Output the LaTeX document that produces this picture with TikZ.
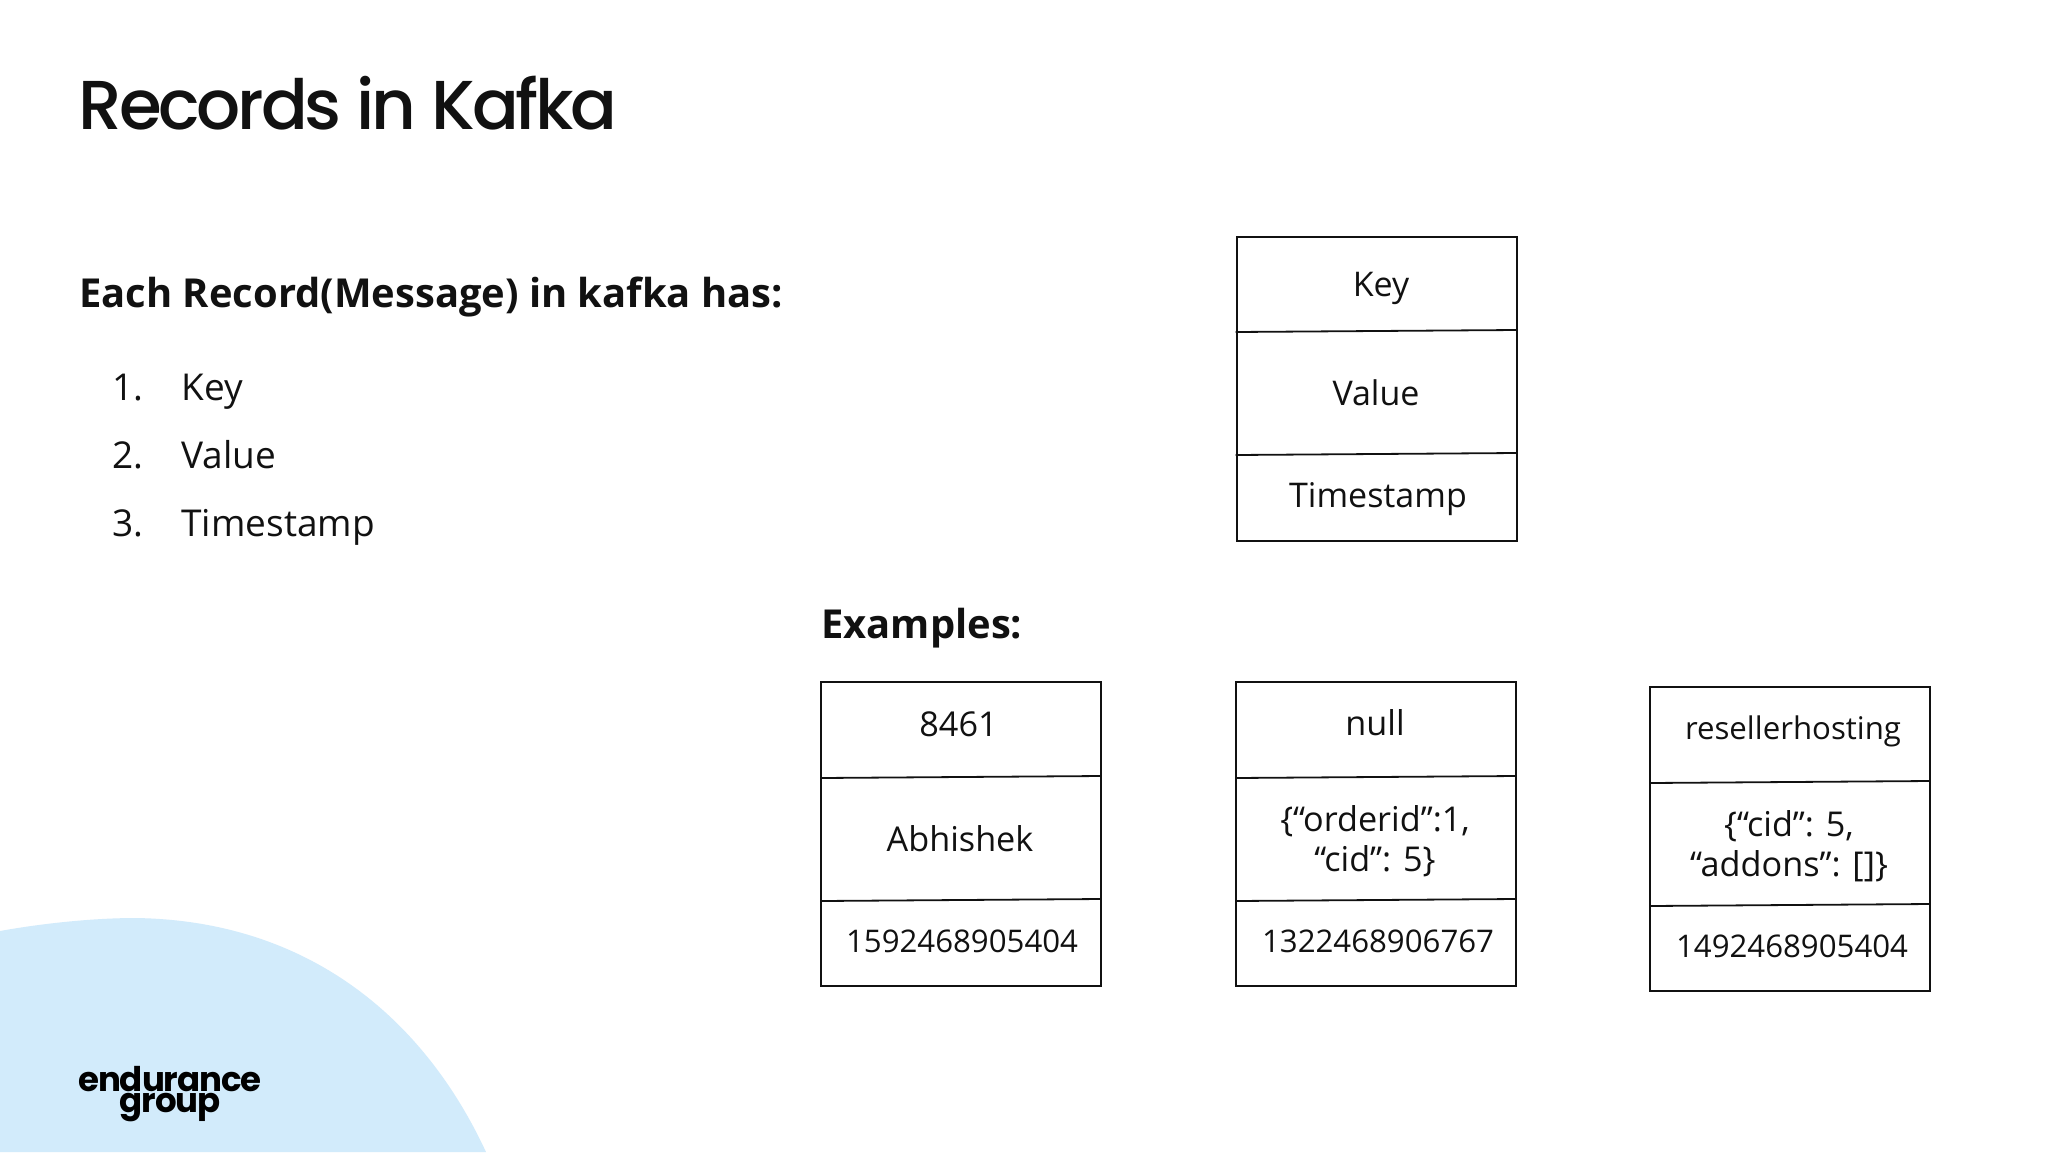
\documentclass[tikz,border=0pt]{standalone}
\usepackage{fontspec}
\setmainfont{Open Sans}
\newfontfamily\titlefont[LetterSpace=-4.6]{Poppins Medium}
\newfontfamily\logofont[LetterSpace=-3]{Poppins Bold}
\definecolor{blob}{HTML}{D2EBFB}
\definecolor{ink}{HTML}{111111}
\tikzset{
  recordbox/.style={draw=ink,line width=1pt,minimum width=140pt,inner sep=0pt,anchor=north west},
  divider/.style={draw=ink,line width=0.9pt},
  txt/.style={inner sep=0pt,anchor=base,text=ink},
  lft/.style={inner sep=0pt,anchor=base west,text=ink},
  big/.style={font=\fontsize{17}{20}\selectfont},
  small/.style={font=\fontsize{15.6}{18}\selectfont},
  value/.style={font=\fontsize{17.1}{20}\selectfont},
  body/.style={font=\fontsize{18.5}{22}\selectfont},
  head/.style={font=\fontsize{19.95}{24}\selectfont\bfseries},
  titletext/.style={font=\fontsize{34.6}{40}\titlefont},
  logotext/.style={font=\fontsize{17}{18}\logofont,inner sep=0pt,anchor=base,text=black}
}
\begin{document}
\begin{tikzpicture}[x=0.5pt,y=-0.5pt]
\useasboundingbox (0,0) rectangle (2048,1152);
\fill[white] (0,0) rectangle (2048,1152);
\fill[blob] (0,1152) -- (0,931) .. controls (50,922) and (100,918) .. (135,918)
  .. controls (300,920) and (420,1010) .. (486,1152) -- cycle;

\node[lft,titletext] (title) at (78,129) {Records in Kafka};
\node[lft,head] (heading) at (79,307.5) {Each Record(Message) in kafka has:};
\node[lft,body] (n1) at (112,400.5) {1.};
\node[lft,body] (t1) at (181,400.5) {Key};
\node[lft,body] (n2) at (112,468.5) {2.};
\node[lft,body] (t2) at (181,468.5) {Value};
\node[lft,body] (n3) at (112,536.5) {3.};
\node[lft,body] (t3) at (181,536.5) {Timestamp};
\node[lft,head] (examples) at (821,638) {Examples:};

% main record
\node[recordbox,minimum height=152pt] (box0) at (1235.5,235.5) {};
\coordinate (a0l) at (1235.5,332); \coordinate (a0r) at (1516,330);
\coordinate (b0l) at (1235.5,455); \coordinate (b0r) at (1516,453);
\draw[divider] (a0l) -- (a0r);
\draw[divider] (b0l) -- (b0r);
\node[txt,big] (k0) at (1381,296) {Key};
\node[txt,big] (v0) at (1376,405.5) {Value};
\node[txt,big] (s0) at (1378,507.5) {Timestamp};

% example 1
\node[recordbox,minimum height=152pt] (box1) at (820,681) {};
\coordinate (a1l) at (820,778); \coordinate (a1r) at (1100.5,776);
\coordinate (b1l) at (820,901); \coordinate (b1r) at (1100.5,899);
\draw[divider] (a1l) -- (a1r);
\draw[divider] (b1l) -- (b1r);
\node[txt,value] (k1) at (958.5,736) {8461};
\node[txt,value] (v1) at (960,851) {Abhishek};
\node[txt,small] (s1) at (962,952) {1592468905404};

% example 2
\node[recordbox,minimum height=152pt] (box2) at (1235,681) {};
\coordinate (a2l) at (1235,778); \coordinate (a2r) at (1515.5,776);
\coordinate (b2l) at (1235,901); \coordinate (b2r) at (1515.5,899);
\draw[divider] (a2l) -- (a2r);
\draw[divider] (b2l) -- (b2r);
\node[txt,value] (k2) at (1375,735) {null};
\node[txt,value] (v2a) at (1375,831) {\{“orderid”:1,};
\node[txt,value] (v2b) at (1375,871) {“cid”: 5\}};
\node[txt,small] (s2) at (1378,952) {1322468906767};

% example 3
\node[recordbox,minimum height=152pt] (box3) at (1649,686) {};
\coordinate (a3l) at (1649,783); \coordinate (a3r) at (1929.5,781);
\coordinate (b3l) at (1649,906); \coordinate (b3r) at (1929.5,904);
\draw[divider] (a3l) -- (a3r);
\draw[divider] (b3l) -- (b3r);
\node[txt,small] (k3) at (1793,739) {resellerhosting};
\node[txt,value] (v3a) at (1789,836) {\{“cid”: 5,};
\node[txt,value] (v3b) at (1789,876) {“addons”: []\}};
\node[txt,small] (s3) at (1792,957) {1492468905404};

\node[logotext] (logo1) at (170,1091) {endurance};
\node[logotext] (logo2) at (170,1112) {group};
\end{tikzpicture}
\end{document}
